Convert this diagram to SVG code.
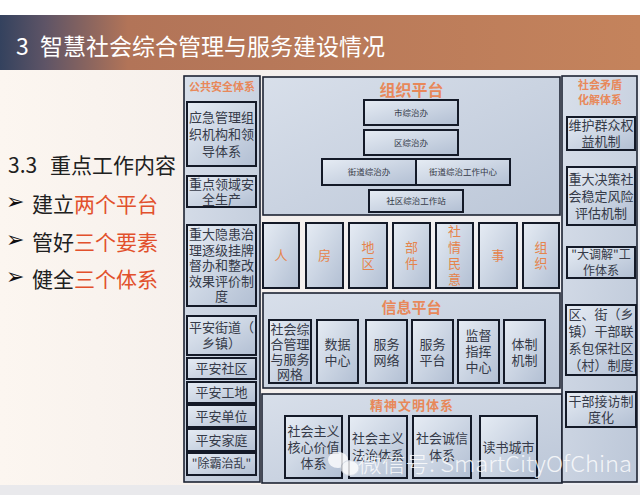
<svg xmlns="http://www.w3.org/2000/svg" width="640" height="495" viewBox="0 0 640 495">
<defs>
<linearGradient id="hdr" x1="0" y1="0" x2="1" y2="0">
<stop offset="0" stop-color="#34425e"/>
<stop offset="0.07" stop-color="#5e5466"/>
<stop offset="0.2" stop-color="#b27458"/>
<stop offset="1" stop-color="#c4835c"/>
</linearGradient>
<linearGradient id="bg" x1="0" y1="0" x2="1" y2="0">
<stop offset="0" stop-color="#fcf6f0"/>
<stop offset="0.3" stop-color="#f6f0ec"/>
<stop offset="1" stop-color="#eceef4"/>
</linearGradient>
<linearGradient id="cont" x1="0" y1="0" x2="1" y2="1">
<stop offset="0" stop-color="#d8dfea"/>
<stop offset="1" stop-color="#bcc7d8"/>
</linearGradient>
<linearGradient id="box" x1="0" y1="0" x2="1" y2="1">
<stop offset="0" stop-color="#e6ecf4"/>
<stop offset="1" stop-color="#b2bfd3"/>
</linearGradient>
</defs>
<style>
.cont{fill:url(#cont);stroke:#1d2333;stroke-width:1.6}
.bx{fill:url(#box);stroke:#141a28;stroke-width:2}
.t{font-family:"Noto Sans CJK SC","Liberation Sans",sans-serif;text-anchor:middle;fill:#353a48}
.s13{font-size:13px}
.s12{font-size:12px}
.s9{font-size:8.5px}
.or{fill:#e5844c}
.hd{font-family:"Noto Sans CJK SC","Liberation Sans",sans-serif;font-weight:bold;text-anchor:middle;fill:#e8885a}
.lt{font-family:"Noto Sans CJK SC","Liberation Sans",sans-serif;font-size:21px;fill:#202020}
.ar{font-family:"DejaVu Sans",sans-serif;font-size:22px;fill:#101010}
.red{fill:#e2502c}
</style>
<rect width="640" height="495" fill="#ffffff"/>
<rect x="0" y="70" width="640" height="415" fill="url(#bg)"/>
<rect x="0" y="485" width="640" height="10" fill="#e9e9ec"/>
<rect x="0" y="15" width="640" height="55" fill="url(#hdr)"/>
<text x="16" y="55" font-family="Noto Sans CJK SC,Liberation Sans,sans-serif" font-size="23" fill="#ffffff">3</text>
<text x="40" y="55" font-family="Noto Sans CJK SC,Liberation Sans,sans-serif" font-size="23" fill="#ffffff" textLength="345" lengthAdjust="spacingAndGlyphs">智慧社会综合管理与服务建设情况</text>
<g id="left-text">
<text class="lt" x="8" y="173">3.3 <tspan x="50">重点工作内容</tspan></text>
<text class="ar" x="6" y="209">➢</text><text class="lt" x="32" y="212">建立<tspan class="red">两个平台</tspan></text>
<text class="ar" x="6" y="247">➢</text><text class="lt" x="32" y="250">管好<tspan class="red">三个要素</tspan></text>
<text class="ar" x="6" y="284">➢</text><text class="lt" x="32" y="287">健全<tspan class="red">三个体系</tspan></text>
</g>
<g id="public-safety">
<rect class="cont" x="184" y="76" width="76" height="406"/>
<text class="hd" x="222" y="91" font-size="11">公共安全体系</text>
<g id="ps1"><rect class="bx" x="187" y="102" width="69" height="64"/><text class="t s13" x="221.5"><tspan x="221.5" y="121.5">应急管理组</tspan><tspan x="221.5" y="138.5">织机构和领</tspan><tspan x="221.5" y="155.5">导体系</tspan></text></g>
<g id="ps2"><rect class="bx" x="187" y="176" width="69" height="31"/><text class="t s13"><tspan x="221.5" y="188.5">重点领域安</tspan><tspan x="221.5" y="203.5">全生产</tspan></text></g>
<g id="ps3"><rect class="bx" x="187" y="225" width="69" height="81"/><text class="t s13"><tspan x="221.5" y="239">重大隐患治</tspan><tspan x="221.5" y="254.5">理逐级挂牌</tspan><tspan x="221.5" y="270">督办和整改</tspan><tspan x="221.5" y="285.5">效果评价制</tspan><tspan x="221.5" y="301">度</tspan></text></g>
<g id="ps4"><rect class="bx" x="187" y="316" width="69" height="39"/><text class="t s13"><tspan x="221.5" y="332">平安街道（</tspan><tspan x="221.5" y="348">乡镇）</tspan></text></g>
<g id="ps5"><rect class="bx" x="187" y="358" width="69" height="21"/><text class="t s13" x="221.5" y="373">平安社区</text></g>
<g id="ps6"><rect class="bx" x="187" y="382" width="69" height="21"/><text class="t s13" x="221.5" y="397">平安工地</text></g>
<g id="ps7"><rect class="bx" x="187" y="405" width="69" height="22"/><text class="t s13" x="221.5" y="420.5">平安单位</text></g>
<g id="ps8"><rect class="bx" x="187" y="429" width="69" height="22"/><text class="t s13" x="221.5" y="444.5">平安家庭</text></g>
<g id="ps9"><rect class="bx" x="187" y="453" width="69" height="22"/><text class="t s12" x="221.5" y="468">"除霸治乱"</text></g>
</g>
<g id="org-platform">
<rect class="cont" x="263" y="77" width="297" height="138"/>
<text class="hd" x="411.5" y="96" font-size="16">组织平台</text>
<g id="op1"><rect class="bx" x="364" y="100" width="94" height="25"/><text class="t s9" x="411" y="115.5">市综治办</text></g>
<g id="op2"><rect class="bx" x="364" y="130" width="94" height="25"/><text class="t s9" x="411" y="145.5">区综治办</text></g>
<g id="op3"><rect class="bx" x="322" y="159" width="94" height="26"/><text class="t s9" x="369" y="175">街道综治办</text></g>
<g id="op4"><rect class="bx" x="416" y="159" width="94" height="26"/><text class="t s9" x="463" y="175">街道综治工作中心</text></g>
<g id="op5"><rect class="bx" x="369" y="190" width="94" height="22"/><text class="t s9" x="416" y="204">社区综治工作站</text></g>
</g>
<g id="elements">
<g id="e1"><rect class="bx" x="263" y="223" width="36" height="65"/><text class="t s13 or" x="281" y="260">人</text></g>
<g id="e2"><rect class="bx" x="306" y="223" width="37" height="65"/><text class="t s13 or" x="324.5" y="260">房</text></g>
<g id="e3"><rect class="bx" x="349" y="223" width="38" height="65"/><text class="t s13 or"><tspan x="368" y="251.5">地</tspan><tspan x="368" y="267.5">区</tspan></text></g>
<g id="e4"><rect class="bx" x="393" y="223" width="37" height="65"/><text class="t s13 or"><tspan x="411.5" y="251.5">部</tspan><tspan x="411.5" y="267.5">件</tspan></text></g>
<g id="e5"><rect class="bx" x="436" y="223" width="37" height="65"/><text class="t s13 or"><tspan x="454.5" y="236">社</tspan><tspan x="454.5" y="252">情</tspan><tspan x="454.5" y="268">民</tspan><tspan x="454.5" y="284">意</tspan></text></g>
<g id="e6"><rect class="bx" x="479" y="223" width="38" height="65"/><text class="t s13 or" x="498" y="260">事</text></g>
<g id="e7"><rect class="bx" x="523" y="223" width="36" height="65"/><text class="t s13 or"><tspan x="541" y="251.5">组</tspan><tspan x="541" y="267.5">织</tspan></text></g>
</g>
<g id="info-platform">
<rect class="cont" x="263" y="293" width="297" height="95"/>
<text class="hd" x="411.5" y="312.5" font-size="15">信息平台</text>
<g id="ip1"><rect class="bx" x="269" y="320" width="42" height="63"/><text class="t s13"><tspan x="290" y="333.5">社会综</tspan><tspan x="290" y="348.5">合管理</tspan><tspan x="290" y="363.5">与服务</tspan><tspan x="290" y="378.5">网格</tspan></text></g>
<g id="ip2"><rect class="bx" x="317" y="320" width="41" height="63"/><text class="t s13"><tspan x="337.5" y="348.5">数据</tspan><tspan x="337.5" y="364.5">中心</tspan></text></g>
<g id="ip3"><rect class="bx" x="366" y="320" width="41" height="63"/><text class="t s13"><tspan x="386.5" y="348.5">服务</tspan><tspan x="386.5" y="364.5">网络</tspan></text></g>
<g id="ip4"><rect class="bx" x="412" y="320" width="41" height="63"/><text class="t s13"><tspan x="432.5" y="348.5">服务</tspan><tspan x="432.5" y="364.5">平台</tspan></text></g>
<g id="ip5"><rect class="bx" x="458" y="320" width="41" height="63"/><text class="t s13"><tspan x="478.5" y="340">监督</tspan><tspan x="478.5" y="356">指挥</tspan><tspan x="478.5" y="372">中心</tspan></text></g>
<g id="ip6"><rect class="bx" x="504" y="320" width="41" height="63"/><text class="t s13"><tspan x="524.5" y="348.5">体制</tspan><tspan x="524.5" y="364.5">机制</tspan></text></g>
</g>
<g id="civilization">
<rect class="cont" x="262" y="394" width="300" height="89"/>
<text class="hd" x="412" y="409.5" font-size="13" letter-spacing="1">精神文明体系</text>
<g id="cv1"><rect class="bx" x="285" y="416" width="57" height="62"/><text class="t s13"><tspan x="313.5" y="435.5">社会主义</tspan><tspan x="313.5" y="451.5">核心价值</tspan><tspan x="313.5" y="467.5">体系</tspan></text></g>
<g id="cv2"><rect class="bx" x="349" y="416" width="58" height="62"/><text class="t s13"><tspan x="378" y="442.5">社会主义</tspan><tspan x="378" y="459.5">法治体系</tspan></text></g>
<g id="cv3"><rect class="bx" x="413" y="416" width="58" height="62"/><text class="t s13"><tspan x="442" y="442.5">社会诚信</tspan><tspan x="442" y="459.5">体系</tspan></text></g>
<g id="cv4"><rect class="bx" x="480" y="416" width="57" height="62"/><text class="t s13" x="508.5" y="451.5">读书城市</text></g>
</g>
<g id="conflict">
<rect class="cont" x="562" y="76" width="75" height="406"/>
<text class="hd" font-size="11"><tspan x="600" y="89">社会矛盾</tspan><tspan x="600" y="104">化解体系</tspan></text>
<g id="cf1"><rect class="bx" x="567" y="117" width="68" height="33"/><text class="t s13"><tspan x="601" y="130">维护群众权</tspan><tspan x="601" y="146">益机制</tspan></text></g>
<g id="cf2"><rect class="bx" x="567" y="167" width="68" height="58"/><text class="t s13"><tspan x="601" y="183.5">重大决策社</tspan><tspan x="601" y="200.5">会稳定风险</tspan><tspan x="601" y="217.5">评估机制</tspan></text></g>
<g id="cf3"><rect class="bx" x="567" y="247" width="68" height="31"/><text class="t s12"><tspan x="601" y="259">"大调解"工</tspan><tspan x="601" y="275">作体系</tspan></text></g>
<g id="cf4"><rect class="bx" x="566" y="305" width="70" height="70"/><text class="t s13"><tspan x="601" y="319">区、街（乡</tspan><tspan x="601" y="336">镇）干部联</tspan><tspan x="601" y="353">系包保社区</tspan><tspan x="601" y="370">（村）制度</tspan></text></g>
<g id="cf5"><rect class="bx" x="566" y="392" width="70" height="35"/><text class="t s13"><tspan x="601" y="406">干部接访制</tspan><tspan x="601" y="422">度化</tspan></text></g>
</g>
<g id="watermark" opacity="0.8">
<ellipse cx="338" cy="460" rx="10" ry="8" fill="#ffffff"/>
<ellipse cx="350" cy="468" rx="9" ry="7.5" fill="#ffffff" stroke="#d8dde6" stroke-width="1"/>
<text x="358" y="472" font-family="Noto Sans CJK SC,Liberation Sans,sans-serif" font-size="22" font-weight="300" fill="#ffffff" textLength="274" lengthAdjust="spacingAndGlyphs">微信号: SmartCityOfChina</text>
</g>
</svg>
